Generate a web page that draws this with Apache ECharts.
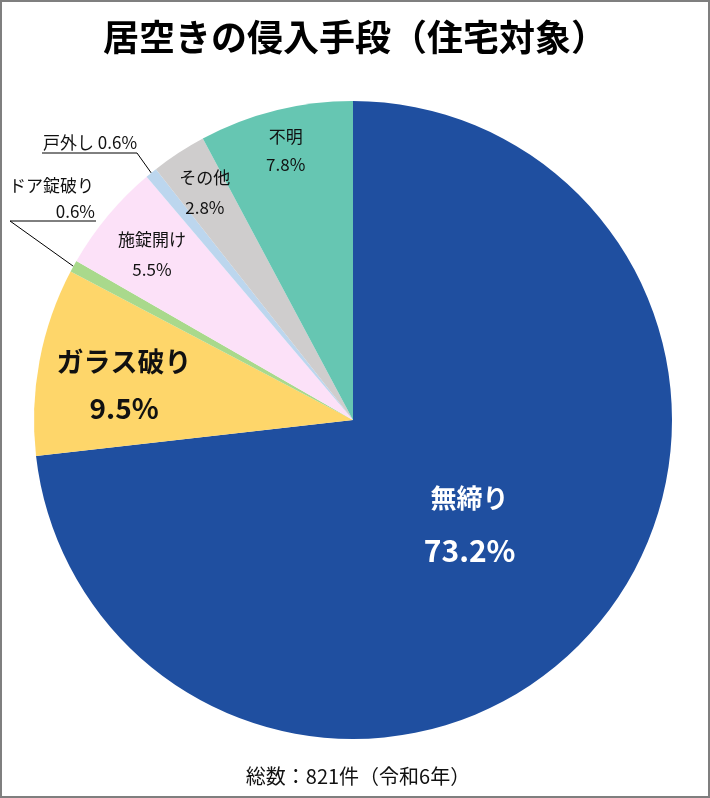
<!DOCTYPE html>
<html>
<head>
<meta charset="utf-8">
<script src="https://cdn.jsdelivr.net/npm/echarts@6/dist/echarts.min.js"></script>
<style>
  html, body { margin: 0; padding: 0; background: #fff; }
  #wrap { position: relative; width: 710px; height: 798px; }
  #chart { position: absolute; left: 0; top: 0; width: 710px; height: 798px; }
  #frame { position: absolute; left: 0; top: 0; width: 710px; height: 798px; box-sizing: border-box; border: 2px solid #7f7f7f; pointer-events: none; }
</style>
</head>
<body>
<div id="wrap"><div id="chart"></div><div id="frame"></div></div>
<script>
// ---- data ----
const titleText = '居空きの侵入手段（住宅対象）';
const footerText = '総数：821件（令和6年）';
const categories = ['無締り', 'ガラス破り', 'ドア錠破り', '施錠開け', '戸外し', 'その他', '不明'];
const values = [73.2, 9.5, 0.6, 5.5, 0.6, 2.8, 7.8];

// ---- styles / layout ----
const colors = ['#1f4fa0', '#fed66a', '#a9d98c', '#fce1f8', '#bcd6ee', '#cfcdcd', '#66c6b2'];
const FONT = '"Noto Sans CJK JP", "Noto Sans", sans-serif';
const CX = 353, CY = 420, R = 319;
// radial fraction where each inside label sits (null = outside label)
const labelFrac = [0.49, 0.73, null, 0.82, null, 0.85, 0.87];
const labelNudgeY = [0, 8, 0, 2, 0, 0, 0];
const labelStyle = [
  { color: '#fff', n: 26, v: 30, lh: 52, w: 'bold' },
  { color: '#111', n: 27, v: 28, lh: 47, w: 'bold' },
  null,
  { color: '#111', n: 17, v: 17, lh: 30, w: 'normal' },
  null,
  { color: '#111', n: 17, v: 17, lh: 30, w: 'normal' },
  { color: '#111', n: 17, v: 17, lh: 28, w: 'normal' }
];

const total = values.reduce((a, b) => a + b, 0);
function polar(i, frac) {
  let cum = 0;
  for (let k = 0; k < i; k++) cum += values[k];
  const theta = (cum + values[i] / 2) / total * 2 * Math.PI; // clockwise from top
  return [CX + frac * R * Math.sin(theta), CY - frac * R * Math.cos(theta)];
}

const data = categories.map((name, i) => {
  const st = labelStyle[i];
  const item = { name, value: values[i], itemStyle: { color: colors[i] } };
  if (!st) {
    item.label = { show: false };
  } else {
    item.label = {
      show: true,
      position: 'inside',
      formatter: p => '{n|' + p.name + '}\n{v|' + p.value.toFixed(1) + '%}',
      rich: {
        n: { fontFamily: FONT, fontSize: st.n, color: st.color, fontWeight: st.w, lineHeight: st.lh, align: 'center' },
        v: { fontFamily: FONT, fontSize: st.v, color: st.color, fontWeight: st.w, lineHeight: st.lh, align: 'center' }
      }
    };
  }
  return item;
});

const chart = echarts.init(document.getElementById('chart'), null, { renderer: 'canvas' });

const pDoor = polar(2, 1.0);
const pTo = polar(4, 1.0);

chart.setOption({
  animation: false,
  backgroundColor: '#fff',
  title: {
    text: titleText,
    left: 'center',
    top: 14,
    textStyle: { fontFamily: FONT, fontSize: 36, fontWeight: 'bold', color: '#000' }
  },
  series: [{
    type: 'pie',
    center: [CX, CY],
    radius: [0, R],
    startAngle: 90,
    clockwise: true,
    silent: true,
    labelLine: { show: false },
    emphasis: { disabled: true },
    data: data,
    labelLayout: function (params) {
      const i = params.dataIndex;
      if (labelFrac[i] == null) return {};
      const p = polar(i, labelFrac[i]);
      return { x: p[0], y: p[1] + labelNudgeY[i], align: 'center', verticalAlign: 'middle' };
    }
  }],
  graphic: [
    // 戸外し outside label
    { type: 'polyline', silent: true, shape: { points: [[42, 153], [137, 153], pTo] }, style: { stroke: '#000', lineWidth: 1, fill: null } },
    { type: 'text', silent: true, x: 43, y: 151, style: { text: categories[4] + ' ' + values[4].toFixed(1) + '%', font: '17px ' + FONT, fill: '#111', align: 'left', verticalAlign: 'bottom' } },
    // ドア錠破り outside label
    { type: 'polyline', silent: true, shape: { points: [[96, 221], [10, 221], pDoor] }, style: { stroke: '#000', lineWidth: 1, fill: null } },
    { type: 'text', silent: true, x: 9, y: 186, style: { text: categories[2], font: '17px ' + FONT, fill: '#111', align: 'left', verticalAlign: 'middle' } },
    { type: 'text', silent: true, x: 95, y: 212, style: { text: values[2].toFixed(1) + '%', font: '17px ' + FONT, fill: '#111', align: 'right', verticalAlign: 'middle' } },
    // footer
    { type: 'text', silent: true, x: 358, y: 776, style: { text: footerText, font: '20px ' + FONT, fill: '#111', align: 'center', verticalAlign: 'middle' } }
  ]
});
</script>
</body>
</html>
